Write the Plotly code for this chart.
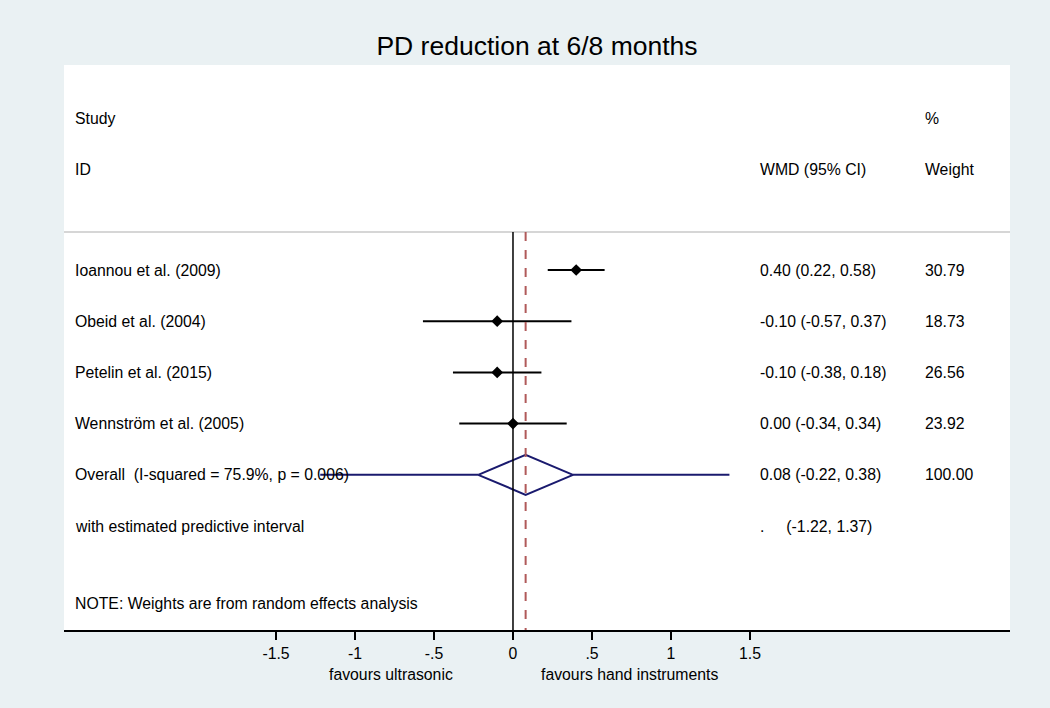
import plotly.graph_objects as go

title = "PD reduction at 6/8 months"
studies = ["Ioannou et al. (2009)", "Obeid et al. (2004)", "Petelin et al. (2015)", "Wennström et al. (2005)"]
wmd = [0.40, -0.10, -0.10, 0.00]
lo = [0.22, -0.57, -0.38, -0.34]
hi = [0.58, 0.37, 0.18, 0.34]
weights = ["30.79", "18.73", "26.56", "23.92"]
overall_label = "Overall  (I-squared = 75.9%, p = 0.006)"
overall = 0.08
overall_lo = -0.22
overall_hi = 0.38
overall_weight = "100.00"
pred_lo = -1.22
pred_hi = 1.37
pred_label = "with estimated predictive interval"
note = "NOTE: Weights are from random effects analysis"
tickvals = [-1.5, -1, -0.5, 0, 0.5, 1, 1.5]
ticktext = ["-1.5", "-1", "-.5", "0", ".5", "1", "1.5"]

# vertical layout (row positions in plot units, top = 0)
ROW0 = 205.0
STEP = 51.2
def rowy(i):
    return ROW0 + STEP * i
Y_TOP = 0
Y_BOT = 565
HEAD1 = 53
HEAD2 = 104
HLINE = 167
NOTE_Y = 538

FONT = "Liberation Sans, Arial, sans-serif"
FS = 15.8
NAVY = "#1a1a6e"

fig = go.Figure()

# CIs
for i in range(len(studies)):
    fig.add_trace(go.Scatter(x=[lo[i], hi[i]], y=[rowy(i), rowy(i)], mode="lines",
                             line=dict(color="black", width=2), showlegend=False, hoverinfo="skip"))
fig.add_trace(go.Scatter(x=wmd, y=[rowy(i) for i in range(len(studies))], mode="markers",
                         marker=dict(symbol="diamond", size=9, color="black"), showlegend=False))

oy = rowy(4)
# predictive interval
fig.add_trace(go.Scatter(x=[pred_lo, overall_lo, None, overall_hi, pred_hi], y=[oy, oy, None, oy, oy], mode="lines",
                         line=dict(color=NAVY, width=2), showlegend=False, hoverinfo="skip"))
# diamond
fig.add_trace(go.Scatter(x=[overall_lo, overall, overall_hi, overall, overall_lo],
                         y=[oy, oy - 20, oy, oy + 20, oy], mode="lines",
                         line=dict(color=NAVY, width=2), showlegend=False, hoverinfo="skip"))

shapes = [
    dict(type="line", xref="paper", yref="y", x0=0, x1=1, y0=HLINE, y1=HLINE, line=dict(color="#c8c8c8", width=1.5)),
    dict(type="line", xref="x", yref="y", x0=0, x1=0, y0=HLINE, y1=Y_BOT, line=dict(color="black", width=1.5)),
    dict(type="line", xref="x", yref="y", x0=overall, x1=overall, y0=HLINE, y1=Y_BOT,
         line=dict(color="#b05a5a", width=2, dash="dash")),
]

ann = []
def txt(xp, y, s, anchor="left"):
    ann.append(dict(x=xp, y=y, xref="paper", yref="y", text=s, showarrow=False, xanchor=anchor,
                    yanchor="middle", font=dict(family=FONT, size=FS, color="black")))

LX = 0.0095
WX = 0.734
PX = 0.908
txt(LX, HEAD1, "Study")
txt(LX, HEAD2, "ID")
txt(PX, HEAD1, "%")
txt(WX, HEAD2, "WMD (95% CI)")
txt(PX, HEAD2, "Weight")
for i, s in enumerate(studies):
    txt(LX, rowy(i), s)
    txt(WX, rowy(i), f"{wmd[i]:.2f} ({lo[i]:.2f}, {hi[i]:.2f})")
    txt(PX, rowy(i), weights[i])
txt(LX, oy, overall_label)
txt(WX, oy, f"{overall:.2f} ({overall_lo:.2f}, {overall_hi:.2f})")
txt(PX, oy, overall_weight)
txt(LX, rowy(5), pred_label)
txt(WX, rowy(5), f".&nbsp;&nbsp;&nbsp;&nbsp;&nbsp;({pred_lo:.2f}, {pred_hi:.2f})")
txt(LX, NOTE_Y, note)

ann.append(dict(x=-0.77, y=-0.078, xref="x", yref="paper", text="favours ultrasonic", showarrow=False,
                xanchor="center", yanchor="middle", font=dict(family=FONT, size=FS, color="black")))
ann.append(dict(x=0.74, y=-0.078, xref="x", yref="paper", text="favours hand instruments", showarrow=False,
                xanchor="center", yanchor="middle", font=dict(family=FONT, size=FS, color="black")))

fig.update_layout(
    width=1050, height=708,
    margin=dict(l=64, r=40, t=65, b=78),
    paper_bgcolor="#eaf1f3",
    plot_bgcolor="white",
    title=dict(text=title, x=0.5, xref="paper", xanchor="center", y=0.936, yanchor="middle",
               font=dict(family=FONT, size=26.5, color="black")),
    xaxis=dict(range=[-2.842, 3.146], tickvals=tickvals, ticktext=ticktext, showgrid=False, zeroline=False,
               showline=True, linecolor="black", linewidth=1.5, ticks="outside", ticklen=8, tickwidth=1.5,
               tickcolor="black", tickfont=dict(family=FONT, size=FS, color="black"), fixedrange=True),
    yaxis=dict(range=[Y_BOT, Y_TOP], showgrid=False, zeroline=False, showticklabels=False, showline=False,
               fixedrange=True),
    shapes=shapes,
    annotations=ann,
    showlegend=False,
)

fig.write_html("out.html", config={"displayModeBar": False},
               post_script="document.body.style.margin='0';document.body.style.padding='0';")
